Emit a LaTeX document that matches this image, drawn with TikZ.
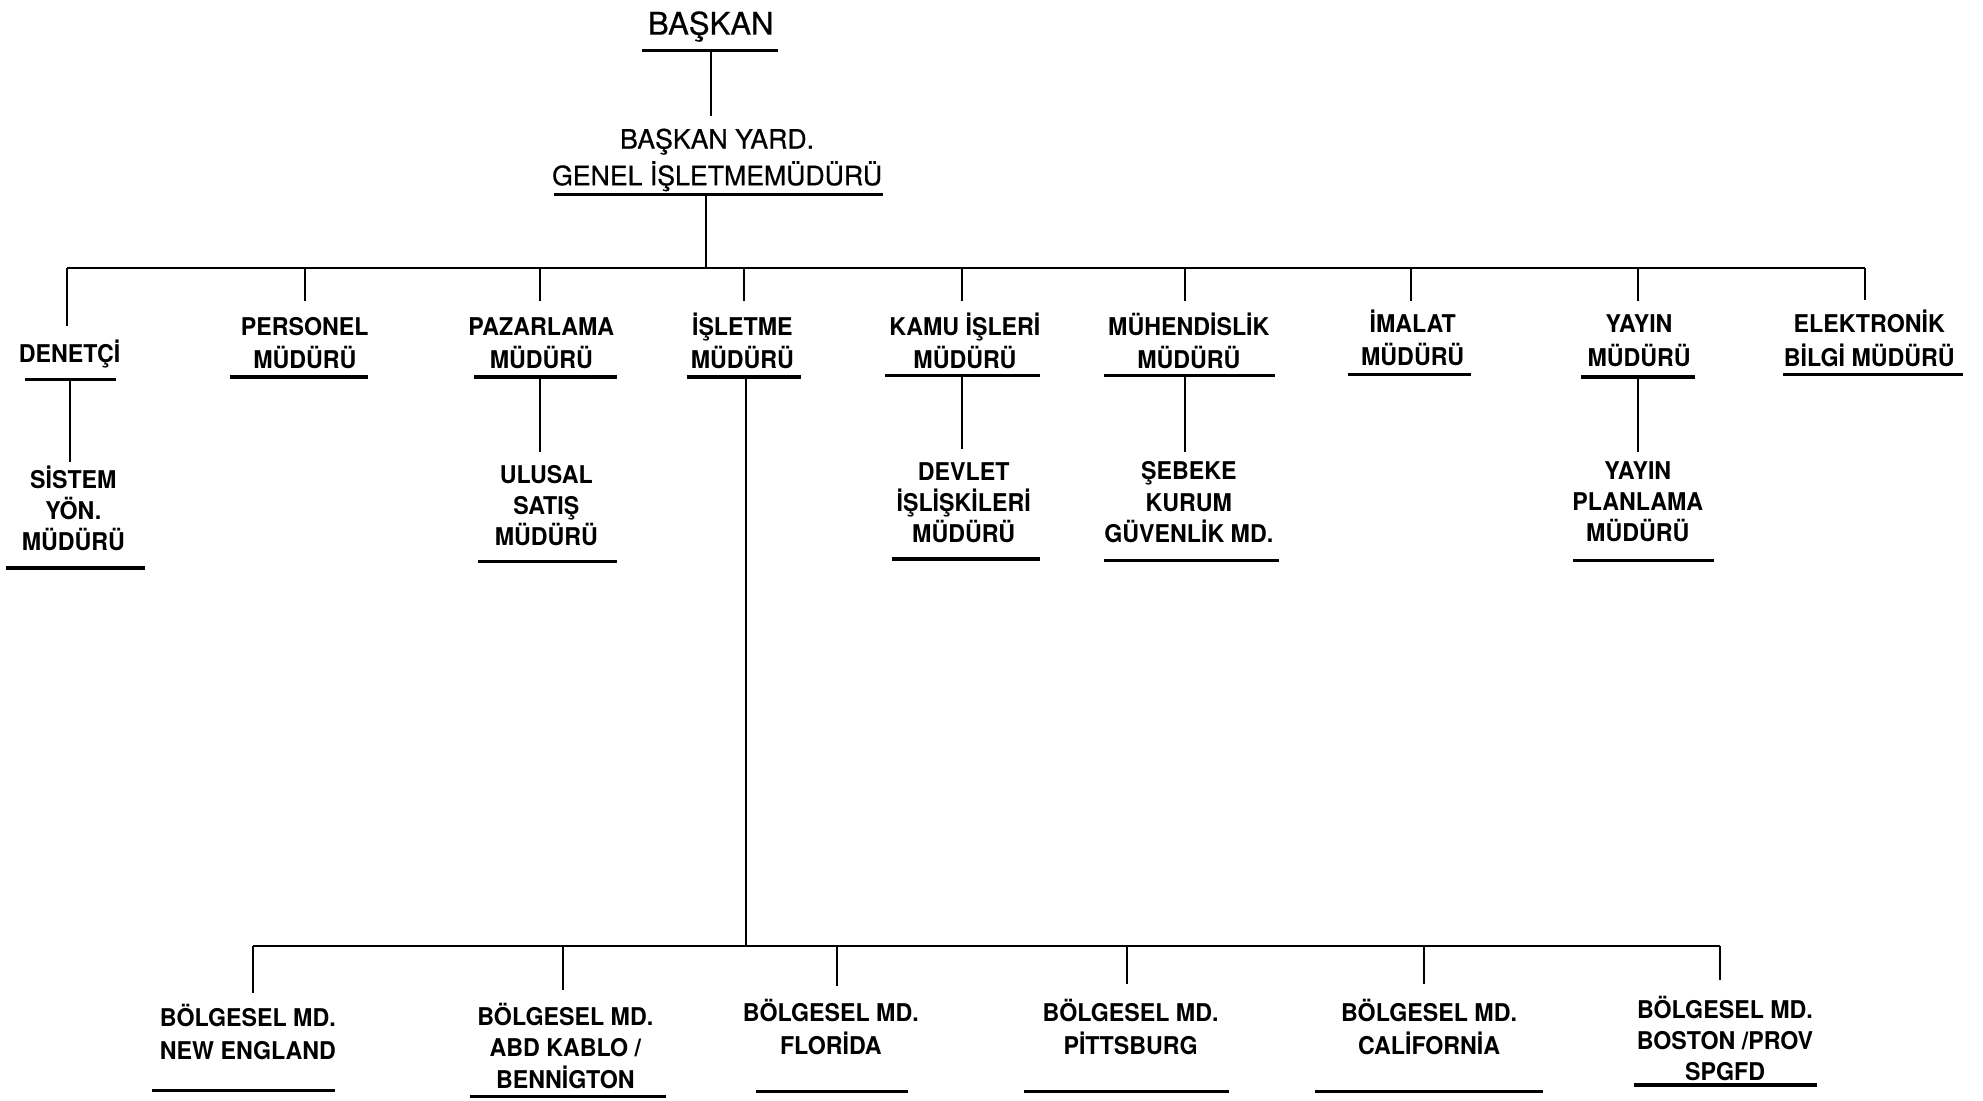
\documentclass[tikz,border=0pt]{standalone}
\usepackage{fontspec}
\setmainfont{TeX Gyre Heros}
\newfontfamily\labfont[FakeStretch=0.95]{TeX Gyre Heros}
\newfontfamily\headfont[FakeBold=0.6]{TeX Gyre Heros}
\begin{document}
\begin{tikzpicture}[x=0.02cm,y=-0.02cm,
  lab/.style={font=\labfont\bfseries\fontsize{11}{15}\selectfont, align=center, inner sep=0pt},
  labiii/.style={font=\labfont\bfseries\fontsize{11}{14}\selectfont, align=center, inner sep=0pt},
  head/.style={font=\headfont\fontsize{12}{16.5}\selectfont, align=center, inner sep=0pt},
  uline/.style={line width=1.5pt},
  conn/.style={line width=0.85pt},
  bar/.style={line width=1.2pt}]
\useasboundingbox (0,0) rectangle (1568,870);

% ---------- labels ----------
\node[head, font=\headfont\fontsize{14}{16}\selectfont] (bas) at (562,21) {BAŞKAN};
\node[head] (vp) at (567,126.5) {BAŞKAN YARD.\\GENEL İŞLETMEMÜDÜRÜ};

\node[lab] (den) at (55,280) {DENETÇİ};
\node[lab] (per) at (241,271.5) {PERSONEL\\MÜDÜRÜ};
\node[lab] (paz) at (428,271.5) {PAZARLAMA\\MÜDÜRÜ};
\node[lab] (isl) at (587,269.5) {İŞLETME\\MÜDÜRÜ};
\node[lab] (kam) at (763,269.5) {KAMU İŞLERİ\\MÜDÜRÜ};
\node[lab] (muh) at (940,269.5) {MÜHENDİSLİK\\MÜDÜRÜ};
\node[lab] (ima) at (1117,267) {İMALAT\\MÜDÜRÜ};
\node[lab] (yay) at (1296,269.5) {YAYIN\\MÜDÜRÜ};
\node[lab] (ele) at (1478,267.5) {ELEKTRONİK\\BİLGİ MÜDÜRÜ};

\node[labiii] (sis) at (58,402) {SİSTEM\\YÖN.\\MÜDÜRÜ};
\node[labiii] (ulu) at (432,399.5) {ULUSAL\\SATIŞ\\MÜDÜRÜ};
\node[labiii] (dev) at (762,397.5) {DEVLET\\İŞLİŞKİLERİ\\MÜDÜRÜ};
\node[labiii] (seb) at (940,397) {ŞEBEKE\\KURUM\\GÜVENLİK MD.};
\node[labiii] (ypl) at (1295,397) {YAYIN\\PLANLAMA\\MÜDÜRÜ};

\node[lab] (bi) at (196,816) {BÖLGESEL MD.\\NEW ENGLAND};
\node[labiii] (bii) at (447,827) {BÖLGESEL MD.\\ABD KABLO /\\BENNİGTON};
\node[lab] (biii) at (657,812) {BÖLGESEL MD.\\FLORİDA};
\node[lab] (biv) at (894,812) {BÖLGESEL MD.\\PİTTSBURG};
\node[lab] (bv) at (1130,812) {BÖLGESEL MD.\\CALİFORNİA};
\node[labiii] (bvi) at (1364,821) {BÖLGESEL MD.\\BOSTON /PROV\\SPGFD};

% ---------- underlines ----------
\draw[uline] (508,40) -- (615,40);
\draw[uline] (438,154) -- (698,154);
\draw[uline] (20,300) -- (92,300);
\draw[uline] (182,298) -- (291,298);
\draw[uline] (375,298) -- (488,298);
\draw[uline] (543,298) -- (633,298);
\draw[uline] (700,297) -- (822,297);
\draw[uline] (873,297) -- (1008,297);
\draw[uline] (1066,296) -- (1163,296);
\draw[uline] (1250,298) -- (1340,298);
\draw[uline] (1410,296) -- (1552,296);
\draw[uline] (5,449) -- (115,449);
\draw[uline] (378,444) -- (488,444);
\draw[uline] (705,442) -- (822,442);
\draw[uline] (873,443) -- (1011,443);
\draw[uline] (1244,443) -- (1355,443);
\draw[uline] (120,862) -- (265,862);
\draw[uline] (372,867) -- (527,867);
\draw[uline] (598,863) -- (718,863);
\draw[uline] (810,863) -- (972,863);
\draw[uline] (1040,863) -- (1220,863);
\draw[uline] (1292,858) -- (1437,858);

% ---------- connection points ----------
\coordinate (bas-out) at (562,40);
\coordinate (vp-in) at (562,92);
\coordinate (vp-out) at (558,154);
\coordinate (vp-bar) at (558,212);
\coordinate (den-in) at (53,258);
\coordinate (per-in) at (241,238);
\coordinate (paz-in) at (427,238);
\coordinate (isl-in) at (588,238);
\coordinate (kam-in) at (761,238);
\coordinate (muh-in) at (937,238);
\coordinate (ima-in) at (1116,238);
\coordinate (yay-in) at (1295,238);
\coordinate (ele-in) at (1475,237);
\coordinate (den-out) at (55,300);
\coordinate (sis-in) at (55,365);
\coordinate (paz-out) at (427,298);
\coordinate (ulu-in) at (427,357);
\coordinate (kam-out) at (761,297);
\coordinate (dev-in) at (761,355);
\coordinate (muh-out) at (937,297);
\coordinate (seb-in) at (937,357);
\coordinate (yay-out) at (1295,298);
\coordinate (ypl-in) at (1295,357);
\coordinate (isl-out) at (590,298);
\coordinate (isl-bar) at (590,748);
\coordinate (bi-in) at (200,785);
\coordinate (bii-in) at (445,783);
\coordinate (biii-in) at (662,780);
\coordinate (biv-in) at (891,778);
\coordinate (bv-in) at (1126,778);
\coordinate (bvi-in) at (1360,775);

% ---------- connectors ----------
\draw[conn] (bas-out) -- (vp-in);
\draw[conn] (vp-out) -- (vp-bar);
\draw[bar] (den-in |- vp-bar) -- (ele-in |- vp-bar);
\foreach \n in {den,per,paz,isl,kam,muh,ima,yay,ele}
  \draw[conn] (\n-in |- vp-bar) -- (\n-in);
\draw[conn] (den-out) -- (sis-in);
\draw[conn] (paz-out) -- (ulu-in);
\draw[conn] (kam-out) -- (dev-in);
\draw[conn] (muh-out) -- (seb-in);
\draw[conn] (yay-out) -- (ypl-in);
\draw[conn] (isl-out) -- (isl-bar);
\draw[bar] (bi-in |- isl-bar) -- (bvi-in |- isl-bar);
\foreach \n in {bi,bii,biii,biv,bv,bvi}
  \draw[conn] (\n-in |- isl-bar) -- (\n-in);
\end{tikzpicture}
\end{document}
